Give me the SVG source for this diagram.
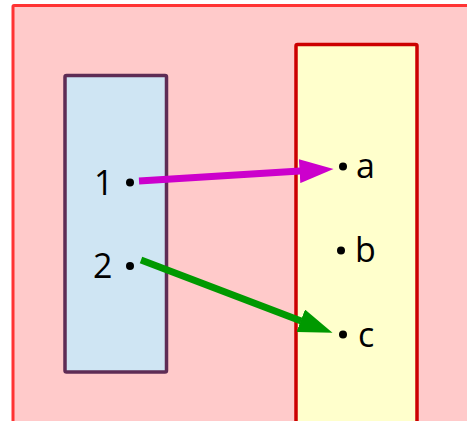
<svg xmlns="http://www.w3.org/2000/svg" width="467" height="421" viewBox="0 0 467 421">
<style>
.lbl{font-family:"Open Sans","Noto Sans",sans-serif;font-size:34px;fill:#000}
.dot{fill:#000}
</style>
<defs>
<marker id="hm" markerUnits="userSpaceOnUse" markerWidth="36" markerHeight="24" refX="0.5" refY="12" orient="auto"><path d="M0,0 L34,12 L0,24 Z" fill="#cc00cc"/></marker>
<marker id="hg" markerUnits="userSpaceOnUse" markerWidth="36" markerHeight="24" refX="0.5" refY="12" orient="auto"><path d="M0,0 L34,12 L0,24 Z" fill="#009900"/></marker>
</defs>
<g id="outer"><rect x="13" y="5.5" width="480" height="440" rx="1" fill="#ffcaca" stroke="#ff3333" stroke-width="3"/></g>
<g id="domain">
<rect x="65" y="75.5" width="101.5" height="296.5" rx="1.5" fill="#cfe5f3" stroke="#5e2c55" stroke-width="3.5"/>
<text class="lbl" x="94" y="195">1</text>
<circle class="dot" cx="130" cy="182.5" r="4"/>
<text class="lbl" x="93" y="278">2</text>
<circle class="dot" cx="130" cy="266" r="4"/>
</g>
<g id="codomain">
<rect x="296" y="44.5" width="121" height="400" rx="1.5" fill="#ffffcc" stroke="#cc0000" stroke-width="3.5"/>
<circle class="dot" cx="343" cy="166.5" r="4"/>
<text class="lbl" x="356" y="178">a</text>
<circle class="dot" cx="341" cy="250.5" r="4"/>
<text class="lbl" x="355" y="262">b</text>
<circle class="dot" cx="343" cy="334.5" r="4"/>
<text class="lbl" x="358" y="347">c</text>
</g>
<g id="connectors">
<line x1="139" y1="181" x2="300.1" y2="171.1" stroke="#cc00cc" stroke-width="7" marker-end="url(#hm)"/>
<line x1="141" y1="260" x2="301.2" y2="320.9" stroke="#009900" stroke-width="7" marker-end="url(#hg)"/>
</g>
</svg>
